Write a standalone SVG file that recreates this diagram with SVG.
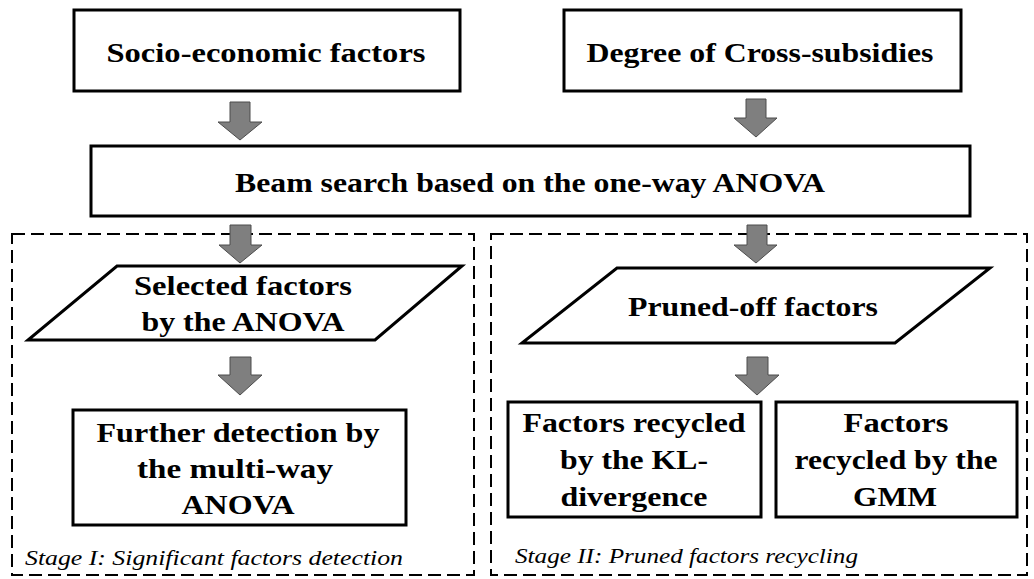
<svg xmlns="http://www.w3.org/2000/svg" width="1034" height="579" viewBox="0 0 1034 579">
<style>
.box{fill:#fff;stroke:#000;stroke-width:3}
.dash{fill:none;stroke:#000;stroke-width:2;stroke-dasharray:13 6}
.arr{fill:#7f7f7f;stroke:#4d4d4d;stroke-width:1}
.t{font-family:'Liberation Serif',Tinos,'Nimbus Roman',Times,'DejaVu Serif',serif;font-weight:bold;font-size:27px;text-anchor:middle;fill:#000}
.s{font-family:'Liberation Serif',Tinos,'Nimbus Roman',Times,'DejaVu Serif',serif;font-style:italic;font-size:22px;fill:#000}
</style>
<rect width="1034" height="579" fill="#fff"/>
<g id="stage1">
<rect class="dash" x="12" y="234" width="462" height="341"/>
<text class="s" x="25" y="565" textLength="378" lengthAdjust="spacingAndGlyphs">Stage I: Significant factors detection</text>
</g>
<g id="stage2">
<rect class="dash" x="491" y="234" width="536" height="341"/>
<text class="s" x="515" y="563" textLength="343" lengthAdjust="spacingAndGlyphs">Stage II: Pruned factors recycling</text>
</g>
<g id="socio">
<rect class="box" x="74" y="10" width="386" height="81"/>
<text class="t" x="266" y="62" textLength="319" lengthAdjust="spacingAndGlyphs">Socio-economic factors</text>
</g>
<g id="degree">
<rect class="box" x="564" y="10" width="397" height="81"/>
<text class="t" x="760" y="62" textLength="347" lengthAdjust="spacingAndGlyphs">Degree of Cross-subsidies</text>
</g>
<g id="beam">
<rect class="box" x="91" y="146" width="879" height="70"/>
<text class="t" x="530" y="192" textLength="590" lengthAdjust="spacingAndGlyphs">Beam search based on the one-way ANOVA</text>
</g>
<g id="selected">
<polygon class="box" points="117,266 462,266 375,340 28,340"/>
<text class="t" x="243" y="295" textLength="218" lengthAdjust="spacingAndGlyphs">Selected factors</text>
<text class="t" x="243" y="331" textLength="203" lengthAdjust="spacingAndGlyphs">by the ANOVA</text>
</g>
<g id="pruned">
<polygon class="box" points="617,268 990,268 895,343 522,343"/>
<text class="t" x="753" y="316" textLength="250" lengthAdjust="spacingAndGlyphs">Pruned-off factors</text>
</g>
<g id="further">
<rect class="box" x="73" y="410" width="333" height="115"/>
<text class="t" x="238" y="442" textLength="283" lengthAdjust="spacingAndGlyphs">Further detection by</text>
<text class="t" x="235" y="478" textLength="196" lengthAdjust="spacingAndGlyphs">the multi-way</text>
<text class="t" x="238" y="514" textLength="113" lengthAdjust="spacingAndGlyphs">ANOVA</text>
</g>
<g id="kl">
<rect class="box" x="508" y="402" width="253" height="115"/>
<text class="t" x="634" y="432" textLength="223" lengthAdjust="spacingAndGlyphs">Factors recycled</text>
<text class="t" x="634" y="469" textLength="148" lengthAdjust="spacingAndGlyphs">by the KL-</text>
<text class="t" x="634" y="506" textLength="147" lengthAdjust="spacingAndGlyphs">divergence</text>
</g>
<g id="gmm">
<rect class="box" x="776" y="402" width="241" height="115"/>
<text class="t" x="896" y="432" textLength="105" lengthAdjust="spacingAndGlyphs">Factors</text>
<text class="t" x="896" y="469" textLength="203" lengthAdjust="spacingAndGlyphs">recycled by the</text>
<text class="t" x="895" y="506" textLength="84" lengthAdjust="spacingAndGlyphs">GMM</text>
</g>
<g id="connectors">
<polygon class="arr" points="230,102 250,102 250,122 262,122 240,140 218,122 230,122"/>
<polygon class="arr" points="746,99 766,99 766,118 777,118 756,137 734,118 746,118"/>
<polygon class="arr" points="230,225 251,225 251,245 262,245 240,263 219,245 230,245"/>
<polygon class="arr" points="747,225 767,225 767,245 777,245 756,263 734,245 747,245"/>
<polygon class="arr" points="230,357 251,357 251,375 262,375 240,395 218,375 230,375"/>
<polygon class="arr" points="747,357 768,357 768,375 779,375 757,395 735,375 747,375"/>
</g>
</svg>
